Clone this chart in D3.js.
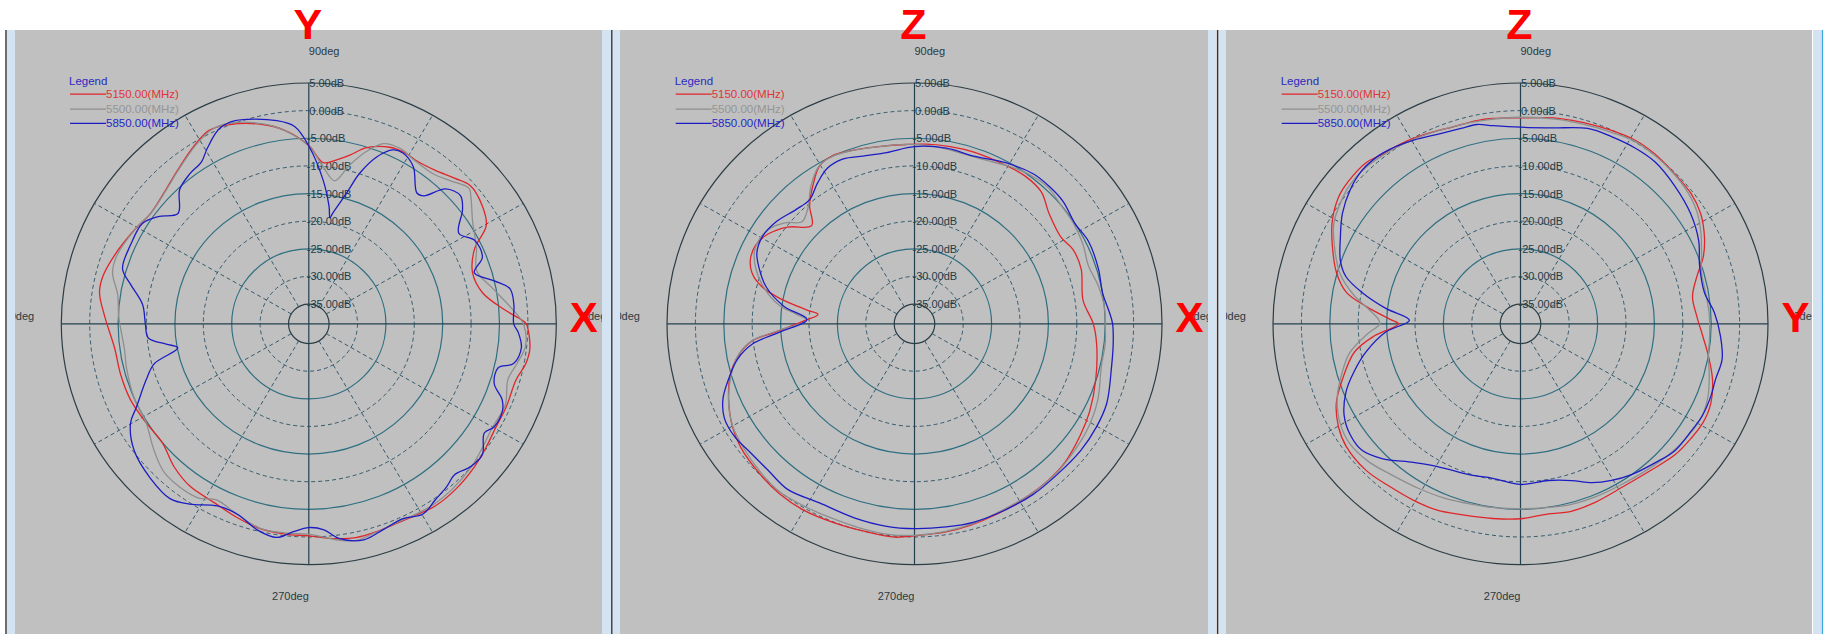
<!DOCTYPE html>
<html><head><meta charset="utf-8">
<script src="https://cdn.jsdelivr.net/npm/d3@7"></script>
<style>html,body{margin:0;padding:0;background:#fff;}svg{display:block;}</style>
</head><body>
<svg id="chart" width="1836" height="634"></svg>
<script>
// ---------- data: [angle in degrees, gain in dB] ----------
const seriesLabels = ["5150.00(MHz)", "5500.00(MHz)", "5850.00(MHz)"];
const ringValues = [5, 0, -5, -10, -15, -20, -25, -30, -35];
const angleLabels = ["0deg", "90deg", "180deg", "270deg"];
const topLetters = ["Y", "Z", "Z"];
const sideLetters = ["X", "X", "Y"];

const p1_5150 = [[0,-0.3],[-6.4,0.6],[-10.7,0.3],[-15.5,-0.7],[-23.5,-0.7],[-29.5,-0.7],[-35.5,-0.2],[-41.5,0.4],[-49.5,1.0],[-56,1.2],[-60.6,0.9],[-67.2,0.7],[-72.6,0.9],[-77.9,1.0],[-83,0.6],[-90,-0.2],[-96.3,-0.3],[-102.8,-0.5],[-109.7,-1.3],[-117.5,-2.2],[-125.5,-2.5],[-132.6,-3.5],[-140.2,-5.0],[-147.9,-4.8],[-156.4,-4.3],[-164.2,-4.2],[-172.7,-4.1],[177.8,-2.6],[171.3,-1.3],[166.8,-1.3],[160,-2.2],[150.9,-3.5],[144.5,-4.3],[136,-3.6],[129.6,-2.4],[122.2,-0.6],[116.5,0.6],[111.2,0.1],[103.1,-1.5],[96.9,-3.3],[90,-6.3],[85,-9.3],[80.6,-8.5],[76.7,-7.2],[72.2,-5.1],[66,-3.6],[61,-3.3],[57.7,-3.5],[51.4,-3.0],[45.8,-1.8],[41.3,-0.7],[35,-1.3],[29.7,-2.6],[24.9,-6.4],[17.8,-8.3],[10.5,-7.5],[4.7,-4.4],[1.0,-1.0]];
const p1_5500 = [[0,-0.8],[-6,-0.2],[-11,-1.2],[-16,-2.1],[-23,-1.0],[-30,-1.2],[-36,-0.7],[-42,0.0],[-50,0.6],[-56,0.8],[-61,0.7],[-67,0.6],[-73,1.0],[-78,1.5],[-83,0.8],[-90,-0.5],[-96,-0.5],[-103,-0.6],[-110,-1.8],[-117,-2.8],[-122,-1.5],[-133,-1.5],[-140,-3.0],[-148,-4.8],[-156,-5.0],[-166,-5.5],[-172,-5.8],[178,-5.1],[171,-4.5],[165,-2.8],[160,-2.6],[151,-3.5],[144,-4.3],[136,-3.7],[130,-2.6],[122,-0.7],[116,0.5],[111,0.3],[103,-1.4],[97,-3.3],[90,-6.4],[85,-10.0],[80,-12.3],[76,-9.0],[72,-5.8],[68,-3.4],[63,-3.0],[58,-3.6],[51,-3.7],[46,-2.6],[41,-1.2],[38.7,-2.0],[32.7,-4.3],[25,-6.0],[18,-7.5],[11,-5.5],[5,-3.0]];
const p1_5850 = [[0,-2.5],[-2.3,-1.7],[-6.6,-0.9],[-11.3,-1.8],[-13.4,-4.3],[-18.3,-4.2],[-21.9,-1.9],[-24.9,-1.0],[-29.8,-1.0],[-32.6,-1.9],[-37.8,0.1],[-42.2,-0.1],[-46.7,-1.1],[-50.5,-0.4],[-55.1,0.3],[-59.7,1.3],[-64.8,0.4],[-70.6,0.9],[-76.1,1.7],[-82,0.7],[-85.9,-1.2],[-90,-1.7],[-94.3,-0.8],[-98.3,0.5],[-103.7,-0.2],[-110,-1.9],[-116,-1.9],[-122.7,0.2],[-127.7,1.4],[-135,0.9],[-143.2,-0.2],[-150.2,-2.4],[-153.6,-4.7],[-160.5,-8.2],[-165.1,-10.4],[-169.3,-15.1],[-171.7,-13.2],[-174.8,-10.2],[180,-9.8],[173.2,-9.1],[167.2,-6.4],[163.1,-4.3],[155.6,-4.1],[148.2,-4.1],[143.8,-5.7],[139.1,-8.1],[133.1,-5.3],[127.7,-4.3],[122.8,-3.7],[119.3,-2.1],[114,0.1],[109.4,0.4],[98.7,-1.4],[94,-2.8],[90,-6.4],[84.5,-12.4],[80.5,-17.0],[79,-19.0],[78.1,-18.1],[74.3,-14.0],[71.8,-9.9],[68.4,-6.1],[64.8,-3.8],[61.8,-3.5],[57.1,-4.7],[51.2,-8.2],[48.8,-7.8],[45.4,-4.3],[41,-3.2],[37.4,-4.5],[31.8,-7.5],[27.4,-5.7],[21.6,-5.7],[17.6,-8.0],[13.4,-5.0],[10.2,-2.6],[5.5,-2.3]];

const p2_5150 = [[0,-7.1],[-6.5,-6.3],[-17.6,-5.1],[-27.2,-3.9],[-34.5,-3.1],[-43.5,-2.1],[-51.4,-1.7],[-59.5,-1.5],[-66.9,-1.2],[-75,-0.8],[-81.6,-0.5],[-90,-0.2],[-95.2,0.2],[-102.5,0.0],[-111.2,0.1],[-120.1,0.4],[-127.5,0.3],[-134.9,-0.1],[-144,-0.7],[-149.8,-1.5],[-157.3,-3.1],[-163.9,-4.8],[-169.4,-7.0],[-173.8,-9.8],[-176.5,-14.1],[178.6,-19.0],[174.3,-21.5],[172.6,-19.6],[169,-14.4],[166,-10.9],[162.1,-8.5],[157.9,-7.4],[152.9,-7.2],[147.8,-8.1],[141.9,-10.2],[135.5,-13.2],[130.8,-10.3],[125.1,-7.6],[120.4,-5.5],[115.8,-4.9],[109.6,-5.3],[101.1,-5.9],[92.5,-6.1],[86.3,-6.0],[78.9,-5.9],[71.4,-5.8],[60.8,-5.7],[53.9,-5.5],[46.9,-5.9],[40.1,-7.6],[31.3,-8.4],[25.8,-7.6],[18.7,-7.6],[8.1,-8.6]];
const p2_5500 = [[0,-5.0],[-6,-4.8],[-13,-4.8],[-23,-3.5],[-30,-2.8],[-38,-2.3],[-47,-1.8],[-56,-1.6],[-65,-1.5],[-74,-1.0],[-82,-0.6],[-90,-0.3],[-97,-0.2],[-105,-0.4],[-113,-0.5],[-120,-0.3],[-128,0.0],[-135,-0.4],[-143,-1.0],[-150,-1.6],[-157,-3.0],[-164,-5.0],[-170,-7.2],[-174,-9.9],[-177,-14.5],[178,-19.5],[175,-17.5],[172,-14.5],[166,-11.2],[160,-8.8],[155,-7.5],[150,-7.3],[146,-7.8],[141,-9.5],[137,-11.5],[132,-10.5],[126,-7.6],[121,-5.6],[116,-5.0],[110,-5.3],[101,-5.9],[92,-6.1],[84,-6.3],[76,-6.6],[68,-6.5],[60,-5.6],[53,-4.8],[46,-4.5],[40,-5.0],[33,-5.2],[26,-5.6],[19,-6.2],[12,-5.5],[5,-5.0]];
const p2_5850 = [[0,-3.7],[-6,-3.4],[-12.9,-3.0],[-23,-1.8],[-30.2,-1.5],[-38.1,-1.4],[-47.4,-1.5],[-55.9,-1.3],[-64.5,-1.3],[-73.7,-1.2],[-81.4,-1.4],[-90,-1.5],[-97.6,-1.6],[-106.6,-1.9],[-117.3,-2.1],[-126.7,-1.2],[-134.2,-1.6],[-141.9,-1.4],[-147,-0.9],[-153,-1.0],[-158,-2.2],[-162.9,-4.3],[-168.3,-6.7],[-172.7,-9.8],[-176.4,-14.8],[177.6,-19.6],[172.2,-15.4],[165.6,-11.6],[160,-9.5],[155.2,-8.0],[149.7,-7.5],[143,-8.0],[135.3,-9.2],[129.4,-9.5],[123.8,-7.9],[118.5,-6.5],[112.8,-6.2],[106.6,-6.9],[99,-7.2],[90,-6.5],[80,-6.3],[71,-6.5],[61.2,-5.3],[52.3,-4.3],[46.5,-4.2],[40.2,-4.3],[32.8,-5.0],[26,-4.5],[17,-4.7],[9.7,-5.0],[3.5,-4.2]];

const p3_5150 = [[83.1,-1.0],[90,-1.3],[97.5,-1.1],[101.8,-1.0],[108.4,-1.0],[116,-0.4],[122.6,0.2],[128.5,0.6],[133,1.3],[139.8,1.2],[144.5,0.8],[150.8,-0.6],[156.7,-2.5],[164.1,-4.9],[169.5,-7.4],[173.4,-11.2],[178,-15.6],[180,-17.1],[-175.1,-12.7],[-170.1,-8.9],[-162.1,-5.6],[-156.1,-3.1],[-149.8,-1.5],[-144,-0.7],[-135.7,-0.6],[-128,-1.2],[-120.5,-1.5],[-113.5,-1.8],[-106.8,-2.5],[-97.9,-3.0],[-90,-3.3],[-83.1,-3.8],[-75,-3.5],[-67.7,-3.7],[-58.4,-4.0],[-49.1,-3.5],[-41.1,-2.5],[-34.8,-2.1],[-29.2,-1.8],[-23.3,-2.1],[-16.6,-3.3],[-9.9,-5.0],[-4,-6.4],[2.5,-7.5],[9.2,-7.9],[15.3,-6.4],[20.6,-4.2],[25.8,-2.6],[32.2,-1.1],[38.1,-0.4],[44.9,-0.2],[52.3,0.2],[58.7,0.3],[65.4,-0.1],[73,-0.5],[79.4,-0.8]];
const p3_5500 = [[90,-1.2],[100,-1.2],[108,-1.0],[116,-0.5],[123,0.0],[129,0.4],[134,0.7],[140,0.6],[145,0.0],[151,-1.0],[157,-3.0],[164,-5.5],[170,-8.8],[174,-11.5],[178,-13.5],[180,-13.8],[-176,-11.5],[-170,-8.0],[-163,-5.5],[-157,-3.5],[-150,-2.0],[-144,-1.5],[-137,-2.0],[-130,-3.0],[-121,-3.8],[-113,-4.3],[-105,-4.8],[-97,-5.0],[-90,-5.1],[-83,-5.0],[-75,-4.7],[-67,-4.6],[-59,-4.5],[-50,-4.0],[-42,-3.3],[-35,-2.8],[-28,-2.5],[-22,-3.0],[-16,-4.0],[-10,-5.0],[-4,-5.2],[3,-5.3],[10,-5.5],[16,-5.4],[22,-4.2],[27,-2.9],[33,-1.5],[39,-0.7],[45,-0.3],[52,0.0],[59,0.1],[65,-0.4],[73,-0.8],[80,-1.0]];
const p3_5850 = [[90,-3.0],[97.7,-2.4],[102,-1.7],[106.5,-1.7],[113.1,-1.3],[119.5,-0.4],[126.1,0.5],[129.6,0.8],[135,0.8],[141,0.0],[147.5,-1.4],[153.7,-3.2],[160.3,-4.9],[164.5,-6.7],[168.5,-10.1],[173.3,-14.7],[178.1,-19.0],[-176.4,-14.8],[-169.4,-10.9],[-163.5,-8.0],[-158.2,-5.5],[-152,-3.4],[-146.2,-2.5],[-140.5,-2.5],[-135,-4.1],[-126.9,-7.2],[-119.5,-8.9],[-108.4,-9.8],[-99.9,-10.2],[-90,-9.5],[-80.2,-9.8],[-72.3,-8.8],[-66.4,-7.2],[-60.5,-6.0],[-54.4,-5.0],[-46.6,-4.0],[-40.2,-3.0],[-32.9,-2.8],[-27.3,-2.5],[-21.1,-2.6],[-16.4,-2.8],[-10.3,-2.5],[-3.6,-3.3],[3.5,-4.4],[9.9,-5.7],[18.7,-5.3],[25.5,-3.8],[33.6,-2.6],[42.6,-1.7],[51,-0.9],[57.5,-0.9],[64.7,-1.1],[71.5,-1.3],[81.1,-2.7]];

// ---------- layout ----------
const seriesColors = ["#e0262a", "#8e8e8e", "#1c1cc4"];
const legendTextColors = ["#e03434", "#959595", "#2626c8"];
const panels = [
  {x0: 15,   x1: 602,  cx: 308.8,  data: [p1_5150, p1_5500, p1_5850]},
  {x0: 620,  x1: 1208, cx: 914.5,  data: [p2_5150, p2_5500, p2_5850]},
  {x0: 1226, x1: 1812, cx: 1520.5, data: [p3_5150, p3_5500, p3_5850]}
];
const CY = 323.8, RX = 247.5, RY = 240.8, TOP = 30;
const FONT = "'Liberation Sans', Arial, sans-serif";

const svg = d3.select("#chart");
svg.append("rect").attr("width", 1836).attr("height", 634).attr("fill", "#ffffff");

// window frames
const strips = [[7,15],[602,611],[613,620],[1208,1216],[1219,1226],[1813,1822]];
strips.forEach(s => svg.append("rect").attr("x", s[0]).attr("y", TOP).attr("width", s[1]-s[0]).attr("height", 634-TOP).attr("fill", "#d3e3f2"));
[[6,"#3a3f44",1.5],[611.8,"#45494e",1.6],[1217.6,"#2f3338",1.6],[1822.5,"#3aa9e0",1.2]].forEach(l =>
  svg.append("line").attr("x1", l[0]).attr("x2", l[0]).attr("y1", TOP).attr("y2", 634).attr("stroke", l[1]).attr("stroke-width", l[2]));

const rho = d3.scaleLinear().domain([-35, 5]).range([0.082, 1]);
const defs = svg.append("defs");

panels.forEach((p, i) => {
  const sx = d3.scaleLinear().domain([-1, 1]).range([p.cx - RX, p.cx + RX]);
  const sy = d3.scaleLinear().domain([-1, 1]).range([CY + RY, CY - RY]);
  const rad = a => a * Math.PI / 180;
  const X = (a, db) => sx(rho(db) * Math.cos(rad(a)));
  const Y = (a, db) => sy(rho(db) * Math.sin(rad(a)));

  defs.append("clipPath").attr("id", "clip" + i).append("rect")
    .attr("x", p.x0).attr("y", TOP).attr("width", p.x1 - p.x0).attr("height", 634 - TOP);
  const g = svg.append("g").attr("clip-path", `url(#clip${i})`);
  g.append("rect").attr("x", p.x0).attr("y", TOP).attr("width", p.x1 - p.x0).attr("height", 634 - TOP).attr("fill", "#c0c0c0");

  // rings
  ringValues.forEach(v => {
    const r = rho(v);
    const solid = (v === 5 || v === -5 || v === -15 || v === -25 || v === -35);
    const outer = (v === 5 || v === -35);
    g.append("ellipse").attr("cx", p.cx).attr("cy", CY)
      .attr("rx", sx(r) - p.cx).attr("ry", CY - sy(r))
      .attr("fill", "none")
      .attr("stroke", outer ? "#2c3d45" : (solid ? "#2f6f82" : "#345a6c"))
      .attr("stroke-width", solid ? 1.2 : 1)
      .attr("stroke-dasharray", solid ? null : "4,3");
  });
  // spokes
  d3.range(0, 360, 30).filter(a => a % 90 !== 0).forEach(a => {
    g.append("line")
      .attr("x1", X(a, -35)).attr("y1", Y(a, -35))
      .attr("x2", X(a, 5)).attr("y2", Y(a, 5))
      .attr("stroke", "#345a6c").attr("stroke-width", 1).attr("stroke-dasharray", "4,3");
  });
  // axes
  g.append("line").attr("x1", X(180, 5)).attr("x2", X(0, 5)).attr("y1", CY).attr("y2", CY).attr("stroke", "#23404e").attr("stroke-width", 1.2);
  g.append("line").attr("x1", p.cx).attr("x2", p.cx).attr("y1", Y(90, 5)).attr("y2", Y(270, 5)).attr("stroke", "#23404e").attr("stroke-width", 1.2);

  // ring labels
  ringValues.forEach(v => {
    g.append("text").attr("x", v < 0 ? p.cx - 2 : p.cx + 0.5).attr("y", Y(90, v))
      .attr("dominant-baseline", "central").attr("font-family", FONT).attr("font-size", 11)
      .attr("fill", "#213c4a").text(v.toFixed(2) + "dB");
  });
  // angle labels
  const angStyle = t => t.attr("font-family", FONT).attr("font-size", 11).attr("fill", "#2a3a42").attr("dominant-baseline", "central");
  angStyle(g.append("text").attr("x", p.cx + 273).attr("y", CY - 8).text(angleLabels[0]));
  angStyle(g.append("text").attr("x", p.cx).attr("y", CY - 273).text(angleLabels[1]));
  angStyle(g.append("text").attr("x", p.cx - 274.6).attr("y", CY - 8).attr("text-anchor", "end").text(angleLabels[2]));
  angStyle(g.append("text").attr("x", p.cx).attr("y", CY + 272.5).attr("text-anchor", "end").text(angleLabels[3]));

  // legend
  const lx = p.cx - 239.8;
  g.append("text").attr("x", lx).attr("y", CY - 243).attr("dominant-baseline", "central")
    .attr("font-family", FONT).attr("font-size", 11.5).attr("fill", "#2a2ac0").text("Legend");
  const ly = [CY - 229.6, CY - 214.6, CY - 200.5];
  seriesLabels.forEach((s, k) => {
    g.append("line").attr("x1", lx + 1).attr("x2", lx + 37).attr("y1", ly[k]).attr("y2", ly[k])
      .attr("stroke", seriesColors[k]).attr("stroke-width", 1.2);
    g.append("text").attr("x", lx + 37).attr("y", ly[k]).attr("dominant-baseline", "central")
      .attr("font-family", FONT).attr("font-size", 11.5).attr("fill", legendTextColors[k]).text(s);
  });

  // curves
  const line = d3.line()
    .x(d => X(d[0], d[1])).y(d => Y(d[0], d[1]))
    .curve(d3.curveCatmullRomClosed.alpha(0.5));
  p.data.forEach((ser, k) => {
    const pts = ser.map(d => [((d[0] % 360) + 360) % 360, d[1]]).sort((a, b) => a[0] - b[0]);
    g.append("path").attr("d", line(pts)).attr("fill", "none")
      .attr("stroke", seriesColors[k]).attr("stroke-width", 1.3).attr("stroke-linejoin", "round");
  });

  // red annotation letters
  svg.append("text").attr("x", p.cx - 1).attr("y", 39).attr("text-anchor", "middle")
    .attr("font-family", FONT).attr("font-weight", "bold").attr("font-size", 43).attr("fill", "#ff0000").text(topLetters[i]);
  svg.append("text").attr("x", p.cx + 275).attr("y", 332).attr("text-anchor", "middle")
    .attr("font-family", FONT).attr("font-weight", "bold").attr("font-size", 42).attr("fill", "#ff0000").text(sideLetters[i]);
});
</script>
</body></html>
